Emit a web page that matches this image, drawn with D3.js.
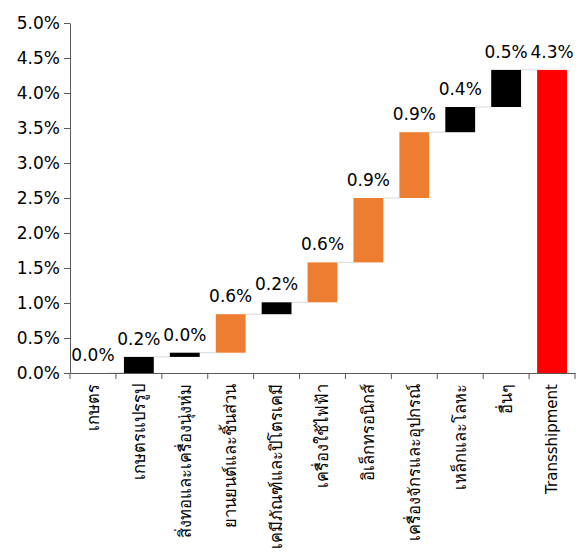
<!DOCTYPE html>
<html>
<head>
<meta charset="utf-8">
<script src="https://cdnjs.cloudflare.com/ajax/libs/d3/7.8.5/d3.min.js"></script>
<style>
  body { margin: 0; background: #fff; }
  svg text { font-family: Tahoma, "DejaVu Sans", "Noto Sans", sans-serif; fill: #000; }
  .axis path, .axis line { stroke: #595959; }
</style>
</head>
<body>
<script>
var categories = ["เกษตร", "เกษตรแปรรูป", "สิ่งทอและเครื่องนุ่งห่ม", "ยานยนต์และชิ้นส่วน",
    "เคมีภัณฑ์และปิโตรเคมี", "เครื่องใช้ไฟฟ้า", "อิเล็กทรอนิกส์", "เครื่องจักรและอุปกรณ์",
    "เหล็กและโลหะ", "อื่นๆ", "Transshipment"];
// contribution of each step (percent points), last one is the total
var deltas = [0.0, 0.23, 0.06, 0.55, 0.17, 0.57, 0.92, 0.94, 0.36, 0.53];
var total = 4.33;
var valueLabels = ["0.0%", "0.2%", "0.0%", "0.6%", "0.2%", "0.6%", "0.9%", "0.9%", "0.4%", "0.5%", "4.3%"];
var barColors = ["#000000", "#000000", "#000000", "#ED7D31", "#000000", "#ED7D31", "#ED7D31",
    "#ED7D31", "#000000", "#000000", "#FF0000"];
var yTicks = [0, 0.5, 1, 1.5, 2, 2.5, 3, 3.5, 4, 4.5, 5];

var margin = {top: 23, right: 7, bottom: 186, left: 70},
    width = 582 - margin.left - margin.right,
    height = 559 - margin.top - margin.bottom;

var svg = d3.select("body").append("svg")
    .attr("width", 582)
    .attr("height", 559)
    .append("g")
    .attr("transform", "translate(" + margin.left + "," + margin.top + ")");

// build start/end for each step
var bars = [];
var run = 0;
deltas.forEach(function(d, i) {
    bars.push({cat: categories[i], start: run, end: run + d, label: valueLabels[i], color: barColors[i]});
    run += d;
});
bars.push({cat: categories[10], start: 0, end: total, label: valueLabels[10], color: barColors[10]});

var x = d3.scaleBand()
    .domain(categories)
    .range([0, width])
    .paddingInner(0.35)
    .paddingOuter(0.175);

var y = d3.scaleLinear()
    .domain([0, 5])
    .range([height, 0]);

// connectors
svg.selectAll(".conn")
    .data(bars.slice(0, bars.length - 1))
    .enter()
    .append("line")
    .attr("class", "conn")
    .attr("x1", d => x(d.cat) + x.bandwidth())
    .attr("x2", (d, i) => x(bars[i + 1].cat))
    .attr("y1", d => y(d.end))
    .attr("y2", d => y(d.end))
    .attr("stroke", "#d9d9d9")
    .attr("stroke-width", 1);

svg.selectAll(".bar")
    .data(bars)
    .enter()
    .append("rect")
    .attr("class", "bar")
    .attr("x", d => x(d.cat))
    .attr("width", x.bandwidth())
    .attr("y", d => y(Math.max(d.start, d.end)))
    .attr("height", d => Math.abs(y(d.start) - y(d.end)))
    .attr("fill", d => d.color);

svg.selectAll(".vlabel")
    .data(bars)
    .enter()
    .append("text")
    .attr("class", "vlabel")
    .attr("text-anchor", "middle")
    .attr("x", d => x(d.cat) + x.bandwidth() / 2)
    .attr("y", d => y(Math.max(d.start, d.end)) - 12)
    .style("font-size", "17px")
    .text(d => d.label);

var yAxis = svg.append("g")
    .attr("class", "axis")
    .call(d3.axisLeft(y).tickValues(yTicks).tickFormat(d => d.toFixed(1) + "%").tickSize(6).tickSizeOuter(0));
yAxis.selectAll("text").style("font-size", "17px").attr("x", -10);

var xAxis = svg.append("g")
    .attr("class", "axis")
    .attr("transform", "translate(0," + height + ")")
    .call(d3.axisBottom(x).tickSize(0).tickSizeOuter(0));

// ticks at band boundaries
xAxis.selectAll(".bound")
    .data(d3.range(categories.length + 1))
    .enter()
    .append("line")
    .attr("class", "bound")
    .attr("x1", i => i * x.step())
    .attr("x2", i => i * x.step())
    .attr("y1", 0)
    .attr("y2", 6)
    .attr("stroke", "#595959");

xAxis.selectAll(".tick text")
    .style("font-size", d => d == "Transshipment" ? "15px" : "16.5px")
    .attr("text-anchor", "end")
    .attr("transform", "rotate(-90)")
    .attr("x", -11)
    .attr("y", 0)
    .attr("dy", "0.35em");
</script>
</body>
</html>
